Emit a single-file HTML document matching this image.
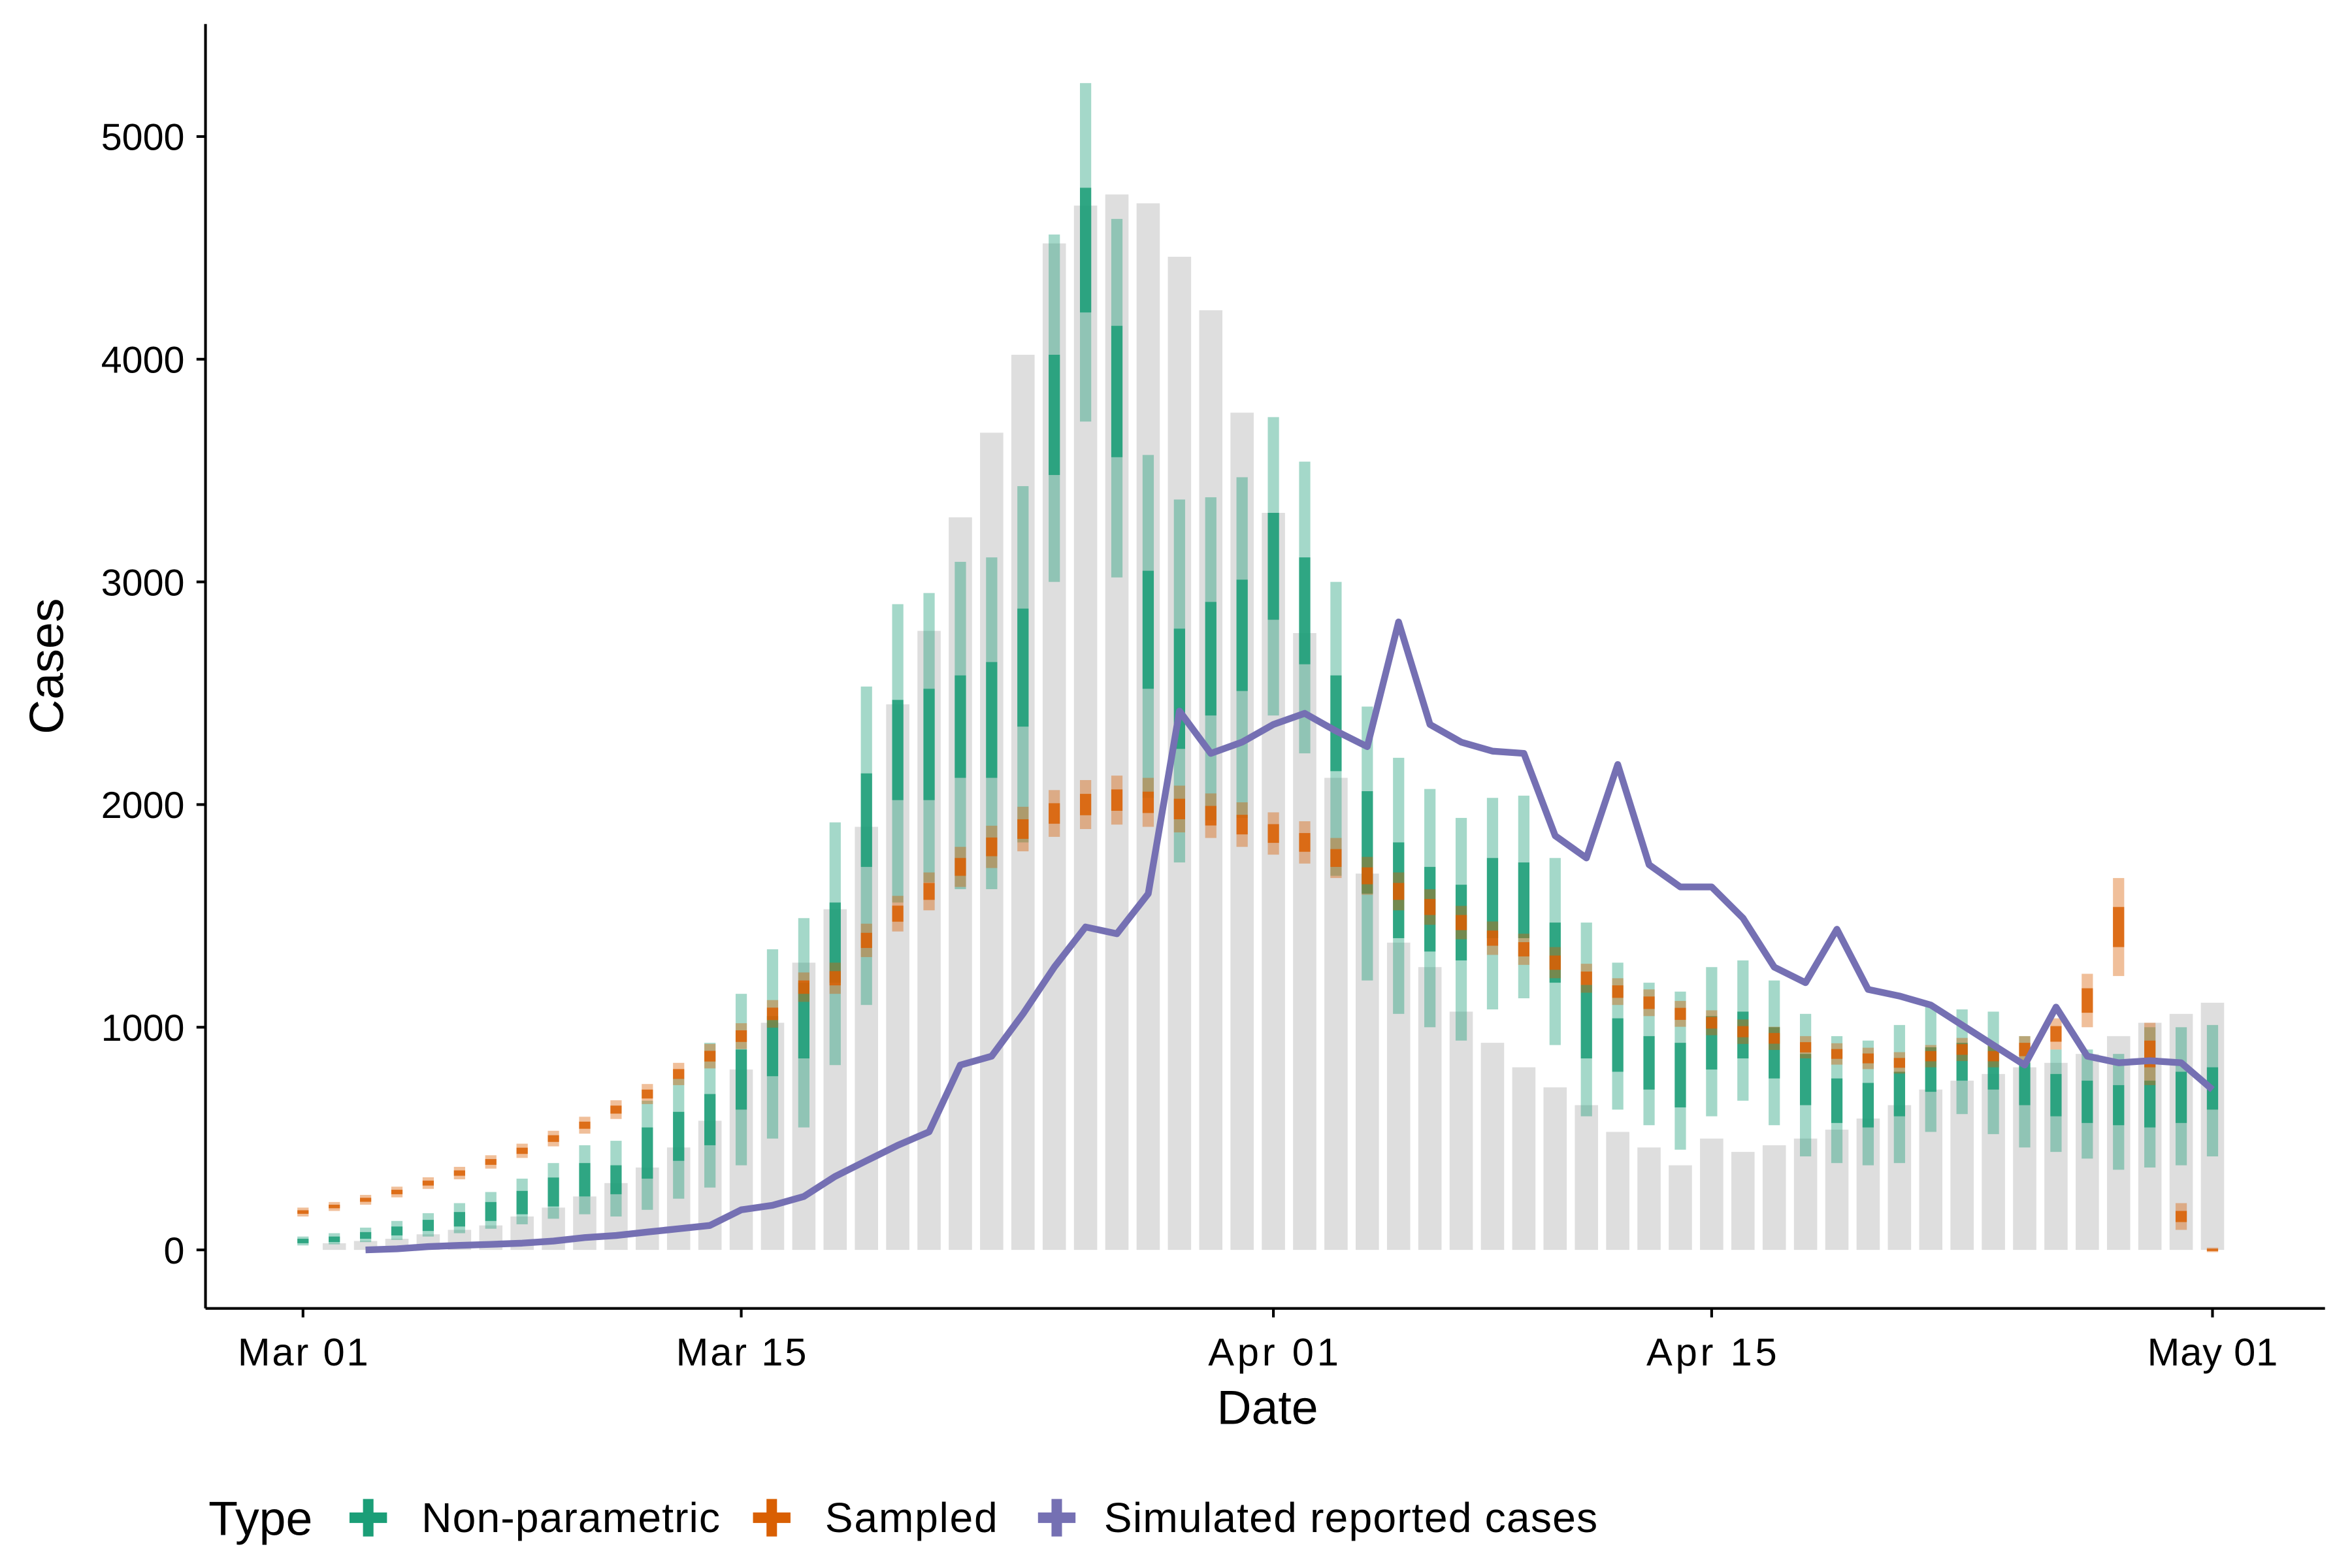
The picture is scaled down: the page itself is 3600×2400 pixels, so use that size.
<!DOCTYPE html>
<html><head><meta charset="utf-8"><style>
html,body{margin:0;padding:0;background:#fff;}
svg{display:block;font-family:"Liberation Sans",sans-serif;}
</style></head><body>
<svg id="chart" width="3600" height="2400" viewBox="0 0 1568 1045" preserveAspectRatio="none" xmlns="http://www.w3.org/2000/svg">
<rect x="0" y="0" width="1568" height="1045" fill="#fff"/>
<g id="bars"></g>
<g id="npOuter"></g>
<g id="npInner"></g>
<g id="sOuter"></g>
<g id="sInner"></g>
<path id="simLine" fill="none" stroke="#7570B3" stroke-width="4.5" stroke-linejoin="round"/>
<line x1="137" y1="16" x2="137" y2="872" stroke="#000" stroke-width="1.8"/>
<line x1="137" y1="872" x2="1550" y2="872" stroke="#000" stroke-width="1.8"/>
<g id="yTicks"></g>
<g id="xTicks"></g>
<text transform="translate(42,444) rotate(-90)" text-anchor="middle" font-size="32">Cases</text>
<text x="845" y="949" text-anchor="middle" font-size="32">Date</text>
<g>
<text x="139" y="1023" font-size="32">Type</text>
<g>
<rect x="242" y="999" width="7" height="25" fill="#1B9E77"/><rect x="233" y="1008" width="25" height="7" fill="#1B9E77"/>
<text x="281" y="1021" font-size="28" textLength="199">Non-parametric</text></g>
<g>
<rect x="511" y="999" width="7" height="25" fill="#D95F02"/><rect x="502" y="1008" width="25" height="7" fill="#D95F02"/>
<text x="550" y="1021" font-size="28" textLength="115">Sampled</text></g>
<g>
<rect x="701" y="999" width="7" height="25" fill="#7570B3"/><rect x="692" y="1008" width="25" height="7" fill="#7570B3"/>
<text x="736" y="1021" font-size="28" textLength="329">Simulated reported cases</text></g>
</g>
</svg>
<script>
// day index 0 = Mar 01 ... 61 = May 01
const barDays = [1,2,3,4,5,6,7,8,9,10,11,12,13,14,15,16,17,18,19,20,21,22,23,24,25,26,27,28,29,30,31,32,33,34,35,36,37,38,39,40,41,42,43,44,45,46,47,48,49,50,51,52,53,54,55,56,57,58,59,60,61];
const barValues = [30,40,50,70,90,110,150,190,240,300,370,460,580,810,1020,1290,1530,1900,2450,2780,3290,3670,4020,4520,4690,4740,4700,4460,4220,3760,3310,2770,2120,1690,1380,1270,1070,930,820,730,650,530,460,380,500,440,470,500,540,590,650,720,760,790,820,840,880,960,1020,1060,1110];
const npOuterLo = [20,25,35,45,60,75,95,115,140,160,150,180,230,280,380,500,550,830,1100,1560,1650,1620,1620,1830,3000,3720,3020,2030,1740,1930,1940,2400,2230,1680,1210,1060,1000,940,1080,1130,920,600,630,560,450,600,670,560,420,390,380,390,530,610,520,460,440,410,360,370,380,420];
const npOuterHi = [60,75,100,130,165,210,260,320,390,470,490,670,770,930,1150,1350,1490,1920,2530,2900,2950,3090,3110,3430,4560,5240,4630,3570,3370,3380,3470,3740,3540,3000,2440,2210,2070,1940,2030,2040,1760,1470,1290,1200,1160,1270,1300,1210,1060,960,940,1010,1100,1080,1070,960,900,900,880,1000,1000,1010];
const npInnerLo = [30,35,50,65,85,105,130,160,195,240,250,320,400,470,630,780,860,1200,1720,2020,2020,2120,2120,2350,3480,4210,3560,2520,2250,2400,2510,2830,2630,2150,1600,1400,1340,1300,1400,1400,1200,860,800,720,640,810,860,770,650,570,550,600,710,760,720,650,600,570,560,550,570,630];
const npInnerHi = [50,60,80,105,135,170,215,265,325,390,380,550,620,700,900,1050,1200,1560,2140,2470,2520,2580,2640,2880,4020,4770,4150,3050,2790,2910,3010,3310,3110,2580,2060,1830,1720,1640,1760,1740,1470,1190,1040,960,930,1050,1070,1000,880,770,750,800,910,930,920,840,790,760,740,760,800,820];
const sampledMed = [170,195,225,260,300,345,395,445,500,560,630,700,790,870,960,1060,1180,1220,1390,1510,1610,1720,1810,1890,1960,2000,2020,2010,1980,1950,1910,1870,1830,1760,1680,1610,1540,1470,1400,1350,1290,1220,1160,1110,1060,1020,980,950,910,880,860,840,870,900,870,900,970,1120,1450,880,150,0];
const sampledOuterHalf = [20,20,22,24,26,28,30,32,35,38,42,45,50,55,58,62,66,70,75,80,85,90,95,100,105,110,110,110,105,100,100,95,95,90,85,85,80,75,75,70,70,65,60,60,58,56,55,52,50,48,48,48,50,52,50,60,70,120,220,140,60,10];
const sampledInnerHalf = [8,8,9,10,11,12,13,14,15,16,18,20,22,24,26,28,30,32,34,36,38,40,42,44,46,48,48,48,46,44,44,42,42,40,38,38,36,34,34,32,32,30,28,28,27,26,25,24,23,22,22,22,23,24,23,30,35,55,90,60,25,5];
const simDays = [2,3,4,5,6,7,8,9,10,11,12,13,14,15,16,17,18,19,20,21,22,23,24,25,26,27,28,29,30,31,32,33,34,35,36,37,38,39,40,41,42,43,44,45,46,47,48,49,50,51,52,53,54,55,56,57,58,59,60,61];
const simValues = [0,5,15,20,25,30,40,55,65,80,95,110,180,200,240,330,400,470,530,830,870,1060,1270,1450,1420,1600,2420,2230,2280,2360,2410,2330,2260,2820,2360,2280,2240,2230,1860,1760,2180,1730,1630,1630,1490,1270,1200,1440,1170,1140,1100,1010,920,830,1090,870,840,850,840,720];
const yTickValues = [0,1000,2000,3000,4000,5000];
const xTickDays = [0,14,31,45,61];
const xTickLabels = ["Mar 01","Mar 15","Apr 01","Apr 15","May 01"];

const NS = "http://www.w3.org/2000/svg";
const xs = d => 202 + d * (1475 - 202) / 61;
const ys = v => 833 - v * (833 - 91) / 5000;

function vbar(g, cx, w, v0, v1, fill, op) {
  const r = document.createElementNS(NS, "rect");
  r.setAttribute("x", cx - w / 2);
  r.setAttribute("width", w);
  const a = ys(Math.max(v0, v1)), b = ys(Math.min(v0, v1));
  r.setAttribute("y", a);
  r.setAttribute("height", Math.max(b - a, 1.5));
  r.setAttribute("fill", fill);
  if (op) r.setAttribute("fill-opacity", op);
  g.appendChild(r);
  return r;
}
const gB = document.getElementById("bars");
barDays.forEach((d, i) => {
  const r = vbar(gB, xs(d), 15.5, 0, barValues[i], "#dedede");
  
  
});
const gO = document.getElementById("npOuter"), gI = document.getElementById("npInner");
npOuterLo.forEach((lo, d) => {
  const r = vbar(gO, xs(d), 7.5, lo, npOuterHi[d], "#1B9E77", 0.4);
  
  
  const r2 = vbar(gI, xs(d), 7.5, npInnerLo[d], npInnerHi[d], "#1B9E77", 0.85);
  
  
});
const gSO = document.getElementById("sOuter"), gSI = document.getElementById("sInner");
sampledMed.forEach((m, d) => {
  const r = vbar(gSO, xs(d), 7.5, m - sampledOuterHalf[d], m + sampledOuterHalf[d], "#D95F02", 0.4);
  
  
  const r2 = vbar(gSI, xs(d), 7.5, m - sampledInnerHalf[d], m + sampledInnerHalf[d], "#D95F02", 0.85);
  
  
});
document.getElementById("simLine").setAttribute("d",
  simDays.map((d, i) => (i ? "L" : "M") + xs(d).toFixed(1) + "," + ys(simValues[i]).toFixed(1)).join(""));
const gY = document.getElementById("yTicks");
yTickValues.forEach(v => {
  const l = document.createElementNS(NS, "line");
  l.setAttribute("x1", 131); l.setAttribute("x2", 137);
  l.setAttribute("y1", ys(v)); l.setAttribute("y2", ys(v));
  l.setAttribute("stroke", "#000"); l.setAttribute("stroke-width", 1.8);
  
  
  gY.appendChild(l);
  const t = document.createElementNS(NS, "text");
  t.setAttribute("x", 123); t.setAttribute("y", ys(v) + 9);
  t.setAttribute("text-anchor", "end"); t.setAttribute("font-size", 25);
  t.textContent = v;
  
  
  gY.appendChild(t);
});
const gX = document.getElementById("xTicks");
xTickDays.forEach((d, i) => {
  const l = document.createElementNS(NS, "line");
  l.setAttribute("x1", xs(d)); l.setAttribute("x2", xs(d));
  l.setAttribute("y1", 872); l.setAttribute("y2", 878);
  l.setAttribute("stroke", "#000"); l.setAttribute("stroke-width", 1.8);
  
  
  gX.appendChild(l);
  const t = document.createElementNS(NS, "text");
  t.setAttribute("x", xs(d)); t.setAttribute("y", 910);
  t.setAttribute("text-anchor", "middle"); t.setAttribute("font-size", 26);
  t.setAttribute("textLength", 87);
  t.textContent = xTickLabels[i];
  
  
  gX.appendChild(t);
});
</script>
</body></html>
